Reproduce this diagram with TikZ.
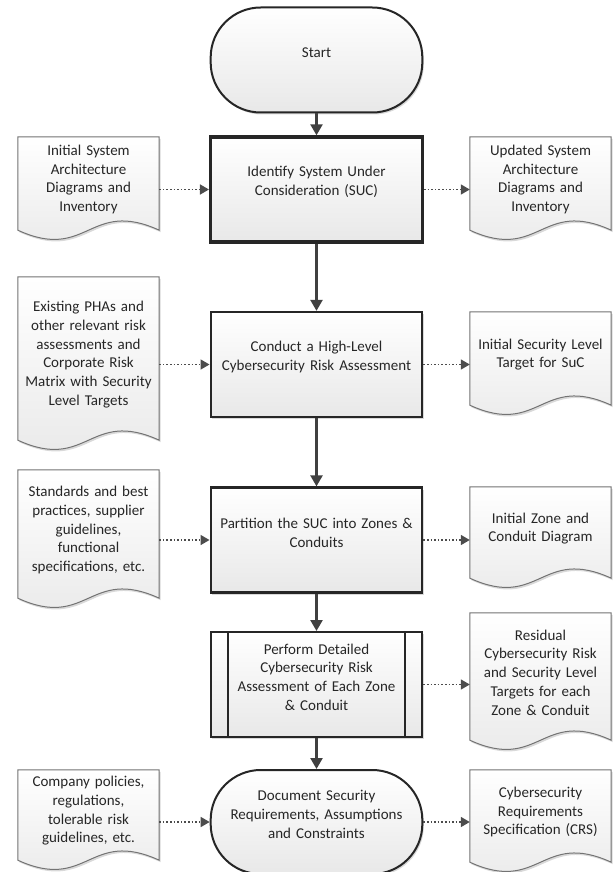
\documentclass[tikz,border=0pt]{standalone}
\usepackage{fontspec}
\setmainfont{Carlito}
\usetikzlibrary{arrows.meta,backgrounds,shadows}
\tikzset{
  txt/.style={font=\fontsize{15}{18.7}\selectfont, text=black!85, align=center},
  soft/.style={drop shadow={shadow xshift=1.5pt, shadow yshift=-2pt, opacity=0.15, fill=black}},
  stepbox/.style={txt, soft, draw=black!85, line width=2.3pt, top color=white, bottom color=black!9, minimum width=211pt, minimum height=105pt, text width=205pt, execute at end node={\par\kern15pt\hrule height 0pt}},
  termbox/.style={stepbox, rounded corners=50pt, line width=2pt},
  docbox/.style={txt, minimum width=141pt, text width=139pt, inner sep=1pt, execute at end node={\par\kern8pt\hrule height 0pt}},
  docline/.style={soft, draw=black!55, line width=1pt, top color=white, bottom color=black!9},
  flow/.style={draw=black!75, line width=2.4pt, -{Triangle[length=11pt,width=12pt]}},
  feed/.style={draw=black!70, line width=1.6pt, dotted, -{Triangle[length=9pt,width=10pt]}}
}
\begin{document}
\begin{tikzpicture}[x=1pt,y=-1pt]
\useasboundingbox (0,0) rectangle (614,872);
\node[termbox] (start) at (316.5,60) {Start};
\node[stepbox, line width=3.4pt] (identify) at (316.5,189.5) {Identify System Under\\Consideration (SUC)};
\node[stepbox] (conduct) at (316.5,364.5) {Conduct a High-Level\\Cybersecurity Risk Assessment};
\node[stepbox] (partition) at (316.5,540) {Partition the SUC into Zones \&\\Conduits};
\node[stepbox, line width=2pt] (perform) at (316.5,684.5) {Perform Detailed\\Cybersecurity Risk\\Assessment of Each Zone\\\& Conduit};
\node[termbox, minimum height=104pt] (document) at (316.5,822) {Document Security\\Requirements, Assumptions\\and Constraints};
\draw[line width=2pt, black!85] ([xshift=18pt]perform.north west) -- ([xshift=18pt]perform.south west);
\draw[line width=2pt, black!85] ([xshift=-18pt]perform.north east) -- ([xshift=-18pt]perform.south east);
\node[docbox, minimum height=93pt] (ld1) at (88.5,183.5) {Initial System\\Architecture\\Diagrams and\\Inventory};
\node[docbox, minimum height=93pt] (rd1) at (540.5,183.5) {Updated System\\Architecture\\Diagrams and\\Inventory};
\node[docbox, minimum height=163pt] (ld2) at (88.5,358.5) {Existing PHAs and\\other relevant risk\\assessments and\\Corporate Risk\\Matrix with Security\\Level Targets};
\node[docbox, minimum height=93pt] (rd2) at (540.5,358.5) {Initial Security Level\\Target for SuC};
\node[docbox, minimum height=128pt] (ld3) at (88.5,534) {Standards and best\\practices, supplier\\guidelines,\\functional\\specifications, etc.};
\node[docbox, minimum height=91pt] (rd3) at (540.5,532.5) {Initial Zone and\\Conduit Diagram};
\node[docbox, minimum height=127pt] (rd4) at (540.5,676.5) {Residual\\Cybersecurity Risk\\and Security Level\\Targets for each\\Zone \& Conduit};
\node[docbox, minimum height=90pt] (ld5) at (88.5,815) {Company policies,\\regulations,\\tolerable risk\\guidelines, etc.};
\node[docbox, minimum height=92pt] (rd5) at (540.5,816) {Cybersecurity\\Requirements\\Specification (CRS)};
\begin{scope}[on background layer]
\foreach \d in {ld1,rd1,ld2,rd2,ld3,rd3,rd4,ld5,rd5}
  \draw[docline] (\d.south west) -- (\d.north west) -- (\d.north east) -- (\d.south east) .. controls ([xshift=-70pt,yshift=32pt]\d.south east) and ([xshift=70pt,yshift=-32pt]\d.south west) .. (\d.south west) -- cycle;
\end{scope}
\draw[flow] (start) -- (identify);
\draw[flow] (identify) -- (conduct);
\draw[flow] (conduct) -- (partition);
\draw[flow] (partition) -- (perform);
\draw[flow] (perform) -- (document);
\draw[feed] (ld1.east |- identify.west) -- (identify.west);
\draw[feed] (identify.east) -- (rd1.west |- identify.east);
\draw[feed] (ld2.east |- conduct.west) -- (conduct.west);
\draw[feed] (conduct.east) -- (rd2.west |- conduct.east);
\draw[feed] (ld3.east |- partition.west) -- (partition.west);
\draw[feed] (partition.east) -- (rd3.west |- partition.east);
\draw[feed] (perform.east) -- (rd4.west |- perform.east);
\draw[feed] (ld5.east |- document.west) -- (document.west);
\draw[feed] (document.east) -- (rd5.west |- document.east);
\end{tikzpicture}
\end{document}
